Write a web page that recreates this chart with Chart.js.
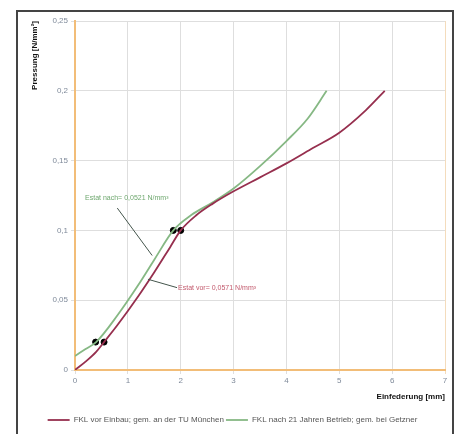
<!DOCTYPE html>
<html>
<head>
<meta charset="utf-8">
<script src="https://cdn.jsdelivr.net/npm/chart.js@4"></script>
<style>
  html, body { margin: 0; padding: 0; background: #fff; }
  #rahmen { position: absolute; left: 16px; top: 10px; width: 438px; height: 440px; border: 2px solid #444; box-sizing: border-box; }
  #wrap { position: absolute; left: 0; top: 0; width: 460px; height: 434px; }
</style>
</head>
<body>
<div id="rahmen"></div>
<div id="wrap"><canvas id="grafica" width="460" height="434"></canvas></div>
<script>
  const vorX = [0, 0.2, 0.4, 0.55, 0.8, 1.2, 1.5, 1.8, 2.0, 2.3, 2.6, 3.0, 3.5, 4.0, 4.5, 5.0, 5.5, 5.86];
  const vorY = [0, 0.006, 0.013, 0.02, 0.032, 0.053, 0.07, 0.088, 0.1, 0.111, 0.119, 0.128, 0.138, 0.148, 0.159, 0.17, 0.186, 0.2];

  const nachX = [0, 0.2, 0.4, 0.8, 1.2, 1.5, 1.86, 2.2, 2.6, 3.0, 3.5, 4.0, 4.4, 4.76];
  const nachY = [0.01, 0.015, 0.02, 0.039, 0.061, 0.079, 0.1, 0.111, 0.12, 0.13, 0.146, 0.164, 0.18, 0.2];

  const puntosX = [0.39, 0.55, 1.86, 2.0];
  const puntosY = [0.02, 0.02, 0.1, 0.1];

  const yTickLabels = ["0", "0,05", "0,1", "0,15", "0,2", "0,25"];
  const xTickLabels = ["0", "1", "2", "3", "4", "5", "6", "7"];

  const serieNombres = ["FKL vor Einbau; gem. an der TU München", "FKL nach 21 Jahren Betrieb; gem. bei Getzner"];

  const anotaciones = [
    { text: "Estat nach= 0,0521 N/mm³", color: "#6fa86f", tx: 0.19, ty: 0.123, from: [0.8, 0.116], to: [1.46, 0.082] },
    { text: "Estat vor= 0,0571 N/mm³", color: "#c2596c", tx: 1.95, ty: 0.0585, from: [1.93, 0.059], to: [1.38, 0.065] },
  ];

  const juntar = (xs, ys) => xs.map((x, i) => ({ x: x, y: ys[i] }));

  const anotarPlugin = {
    id: "anotar",
    afterDatasetsDraw(chart) {
      const { ctx, scales: { x, y } } = chart;
      ctx.save();
      anotaciones.forEach(a => {
        ctx.strokeStyle = "#44554c";
        ctx.lineWidth = 1;
        ctx.beginPath();
        ctx.moveTo(x.getPixelForValue(a.from[0]), y.getPixelForValue(a.from[1]));
        ctx.lineTo(x.getPixelForValue(a.to[0]), y.getPixelForValue(a.to[1]));
        ctx.stroke();
        ctx.fillStyle = a.color;
        ctx.font = "7px 'Liberation Sans', Arial, sans-serif";
        ctx.textBaseline = "middle";
        ctx.fillText(a.text, x.getPixelForValue(a.tx), y.getPixelForValue(a.ty));
      });
      ctx.restore();
    }
  };

  const ctx = document.getElementById("grafica").getContext("2d");

  new Chart(ctx, {
    type: "line",
    data: {
      datasets: [
        {
          label: serieNombres[0],
          data: juntar(vorX, vorY),
          borderColor: "#962f4e",
          borderWidth: 1.8,
          pointRadius: 0,
          cubicInterpolationMode: "monotone",
          fill: false,
        },
        {
          label: serieNombres[1],
          data: juntar(nachX, nachY),
          borderColor: "#86b884",
          borderWidth: 1.8,
          pointRadius: 0,
          cubicInterpolationMode: "monotone",
          fill: false,
        },
        {
          label: "puntos",
          data: juntar(puntosX, puntosY),
          showLine: false,
          pointRadius: 3,
          pointBackgroundColor: "#000",
          pointBorderColor: "#000",
        },
      ],
    },
    options: {
      responsive: false,
      animation: false,
      layout: { padding: { left: 20, right: 15, top: 21, bottom: 0 } },
      scales: {
        x: {
          type: "linear",
          min: 0,
          max: 7,
          afterFit: s => { s.height = 44; },
          ticks: {
            stepSize: 1,
            color: "#7f8a9a",
            font: { size: 8, family: "'Liberation Sans', Arial" },
            padding: 2,
            callback: (v, i) => xTickLabels[i],
          },
          grid: {
            color: c => (c.tick && c.tick.value === 7 ? "#f4dcbc" : "#dedede"),
            tickLength: 4,
          },
          border: { color: "#f2bd78", width: 2 },
          title: {
            display: true,
            text: "Einfederung [mm]",
            align: "end",
            color: "#111",
            font: { size: 8, weight: "bold", family: "'Liberation Sans', Arial" },
            padding: { top: 6, bottom: 12 },
          },
        },
        y: {
          min: 0,
          max: 0.25,
          afterFit: s => { s.width = 55; },
          ticks: {
            stepSize: 0.05,
            color: "#7f8a9a",
            font: { size: 8, family: "'Liberation Sans', Arial" },
            padding: 3,
            callback: (v, i) => yTickLabels[i],
          },
          grid: { color: "#dedede", tickLength: 4 },
          border: { color: "#f2bd78", width: 2 },
          title: {
            display: true,
            text: "Pressung [N/mm²]",
            align: "end",
            color: "#111",
            font: { size: 8, weight: "bold", family: "'Liberation Sans', Arial" },
            padding: { top: 10, bottom: 0 },
          },
        },
      },
      plugins: {
        legend: {
          position: "bottom",
          labels: {
            filter: item => item.datasetIndex < 2,
            usePointStyle: true,
            pointStyle: "line",
            pointStyleWidth: 22,
            boxHeight: 8,
            color: "#555",
            font: { size: 8, family: "'Liberation Sans', Arial" },
            padding: 2,
          },
        },
        tooltip: { enabled: false },
      },
    },
    plugins: [anotarPlugin],
  });
</script>
</body>
</html>
